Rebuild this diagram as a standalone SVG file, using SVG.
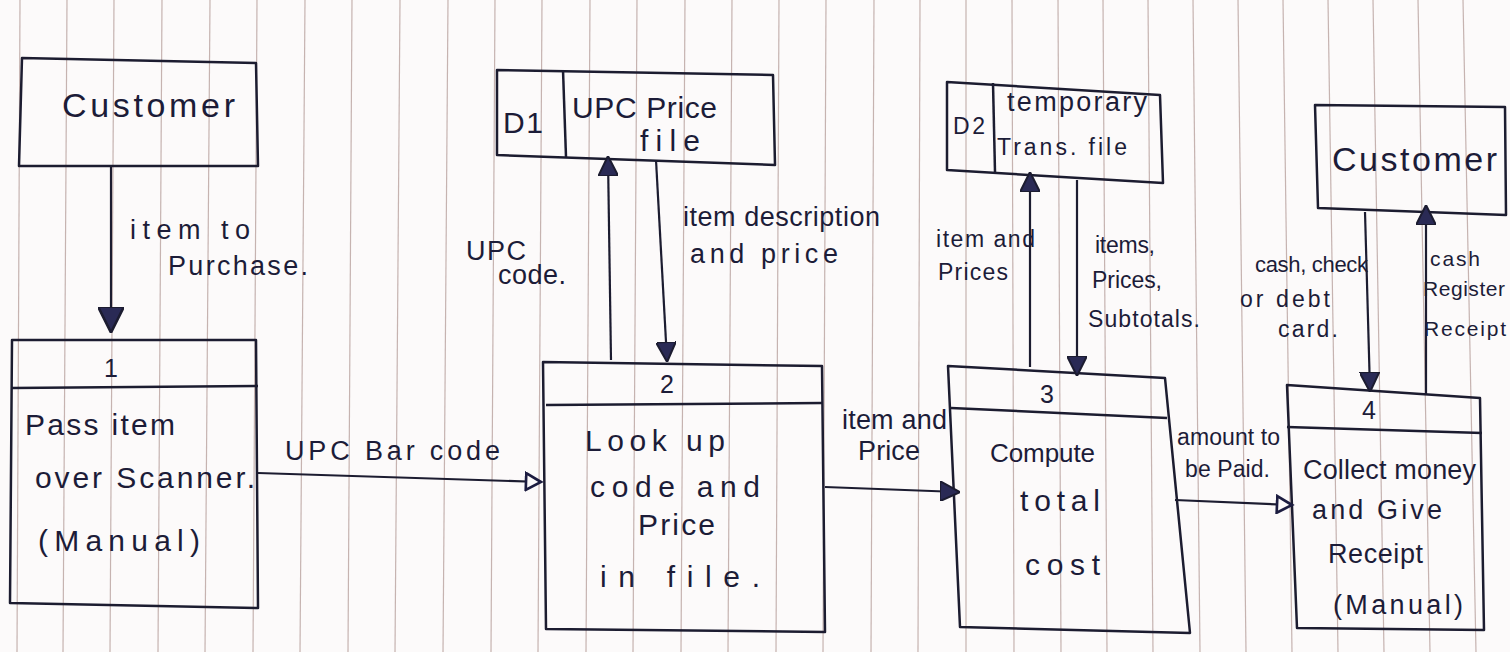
<svg xmlns="http://www.w3.org/2000/svg" width="1510" height="652" viewBox="0 0 1510 652">
<defs>
<style>
.ruling{stroke:#b49c98;stroke-width:1.2;opacity:0.75}
.box{fill:none;stroke:#1c1c30;stroke-width:2.5;stroke-linejoin:round}
.flow{fill:none;stroke:#1c1c30;stroke-width:2.2}
.t{font-family:"Liberation Sans","DejaVu Sans",sans-serif;fill:#1c1c38}
.big{font-size:34px}
.proc{font-size:30px}
.p27{font-size:27px}
.lbl{font-size:27px}
.sm{font-size:23px}
.xs{font-size:21px}
.num{font-size:25px}
</style>
<marker id="ahb" viewBox="0 0 10 10" refX="9" refY="5" markerWidth="20" markerHeight="20" markerUnits="userSpaceOnUse" orient="auto">
<path d="M0,0 L10,5 L0,10 Z" fill="#2a2a55" stroke="#1c1c30" stroke-width="1"/>
</marker>
<marker id="ahbig" viewBox="0 0 10 10" refX="9" refY="5" markerWidth="26" markerHeight="26" markerUnits="userSpaceOnUse" orient="auto">
<path d="M0,0 L10,5 L0,10 Z" fill="#2a2a55" stroke="#1c1c30" stroke-width="1"/>
</marker>
<marker id="aho" viewBox="0 0 12 12" refX="10" refY="6" markerWidth="20" markerHeight="20" markerUnits="userSpaceOnUse" orient="auto">
<path d="M1,1 L10,6 L1,11 Z" fill="#fcfafa" stroke="#1c1c40" stroke-width="1.6"/>
</marker>
</defs>
<rect width="1510" height="652" fill="#fcfafa"/>
<g id="paper-ruling">
<line class="ruling" x1="20" y1="0" x2="17" y2="652"/>
<line class="ruling" x1="67" y1="0" x2="63" y2="652"/>
<line class="ruling" x1="114" y1="0" x2="110" y2="652"/>
<line class="ruling" x1="162" y1="0" x2="158" y2="652"/>
<line class="ruling" x1="210" y1="0" x2="205" y2="652"/>
<line class="ruling" x1="257" y1="0" x2="253" y2="652"/>
<line class="ruling" x1="305" y1="0" x2="300" y2="652"/>
<line class="ruling" x1="352" y1="0" x2="348" y2="652"/>
<line class="ruling" x1="400" y1="0" x2="395" y2="652"/>
<line class="ruling" x1="448" y1="0" x2="443" y2="652"/>
<line class="ruling" x1="495" y1="0" x2="491" y2="652"/>
<line class="ruling" x1="542" y1="0" x2="538" y2="652"/>
<line class="ruling" x1="590" y1="0" x2="586" y2="652"/>
<line class="ruling" x1="637" y1="0" x2="633" y2="652"/>
<line class="ruling" x1="685" y1="0" x2="681" y2="652"/>
<line class="ruling" x1="732" y1="0" x2="728" y2="652"/>
<line class="ruling" x1="779" y1="0" x2="776" y2="652"/>
<line class="ruling" x1="826" y1="0" x2="823" y2="652"/>
<line class="ruling" x1="874" y1="0" x2="871" y2="652"/>
<line class="ruling" x1="920" y1="0" x2="918" y2="652"/>
<line class="ruling" x1="966" y1="0" x2="966" y2="652"/>
<line class="ruling" x1="1012" y1="0" x2="1014" y2="652"/>
<line class="ruling" x1="1058" y1="0" x2="1061" y2="652"/>
<line class="ruling" x1="1103" y1="0" x2="1107" y2="652"/>
<line class="ruling" x1="1148" y1="0" x2="1153" y2="652"/>
<line class="ruling" x1="1193" y1="0" x2="1200" y2="652"/>
<line class="ruling" x1="1238" y1="0" x2="1246" y2="652"/>
<line class="ruling" x1="1283" y1="0" x2="1292" y2="652"/>
<line class="ruling" x1="1328" y1="0" x2="1338" y2="652"/>
<line class="ruling" x1="1373" y1="0" x2="1384" y2="652"/>
<line class="ruling" x1="1418" y1="0" x2="1430" y2="652"/>
<line class="ruling" x1="1463" y1="0" x2="1476" y2="652"/>
</g>

<g id="customer-source">
<path class="box" d="M22,58 L256,63 L258,166 L19,166 Z"/>
<text class="t big" x="62" y="117" textLength="173" lengthAdjust="spacing">Customer</text>
</g>

<g id="process-1">
<path class="box" d="M12,340 L256,340 L258,608 L10,603 Z"/>
<line class="box" x1="12" y1="388" x2="258" y2="386"/>
<text class="t num" x="104" y="377">1</text>
<text class="t proc" x="25" y="435" textLength="150" lengthAdjust="spacing">Pass item</text>
<text class="t proc" x="35" y="488" textLength="220" lengthAdjust="spacing">over Scanner.</text>
<text class="t proc" x="38" y="551" textLength="162" lengthAdjust="spacing">(Manual)</text>
</g>

<g id="store-D1">
<path class="box" d="M497,70 L773,75 L775,165 L497,155 Z"/>
<line class="box" x1="563" y1="70" x2="566" y2="157"/>
<text class="t proc" x="503" y="133" textLength="40" lengthAdjust="spacing">D1</text>
<text class="t proc" x="572" y="118" textLength="145" lengthAdjust="spacing">UPC Price</text>
<text class="t proc" x="640" y="151" textLength="60" lengthAdjust="spacing">file</text>
</g>

<g id="process-2">
<path class="box" d="M543,362 L822,366 L825,632 L546,629 Z"/>
<line class="box" x1="546" y1="405" x2="822" y2="403"/>
<text class="t num" x="660" y="393">2</text>
<text class="t proc" x="585" y="451" textLength="140" lengthAdjust="spacing">Look up</text>
<text class="t proc" x="590" y="497" textLength="170" lengthAdjust="spacing">code and</text>
<text class="t proc" x="638" y="535" textLength="77" lengthAdjust="spacing">Price</text>
<text class="t proc" x="600" y="587" textLength="160" lengthAdjust="spacing">in  file.</text>
</g>

<g id="store-D2">
<path class="box" d="M947,82 L1160,95 L1163,183 L947,170 Z"/>
<line class="box" x1="993" y1="83" x2="995" y2="172"/>
<text class="t sm" x="953" y="134" textLength="32" lengthAdjust="spacing">D2</text>
<text class="t p27" x="1007" y="111" textLength="140" lengthAdjust="spacing">temporary</text>
<text class="t sm" x="997" y="155" textLength="130" lengthAdjust="spacing">Trans. file</text>
</g>

<g id="process-3">
<path class="box" d="M948,366 L1165,378 L1190,633 L960,627 Z"/>
<line class="box" x1="951" y1="408" x2="1167" y2="418"/>
<text class="t num" x="1040" y="403">3</text>
<text class="t proc" x="990" y="462" style="font-size:26px" textLength="105" lengthAdjust="spacing">Compute</text>
<text class="t proc" x="1020" y="511" textLength="80" lengthAdjust="spacing">total</text>
<text class="t proc" x="1025" y="575" textLength="75" lengthAdjust="spacing">cost</text>
</g>

<g id="customer-sink">
<path class="box" d="M1315,105 L1505,107 L1506,215 L1318,208 Z"/>
<text class="t big" x="1332" y="171" textLength="165" lengthAdjust="spacing">Customer</text>
</g>

<g id="process-4">
<path class="box" d="M1287,385 L1480,398 L1484,630 L1297,628 Z"/>
<line class="box" x1="1287" y1="427" x2="1482" y2="433"/>
<text class="t num" x="1362" y="419">4</text>
<text class="t p27" x="1303" y="479" textLength="173" lengthAdjust="spacing">Collect money</text>
<text class="t p27" x="1312" y="519" textLength="130" lengthAdjust="spacing">and Give</text>
<text class="t p27" x="1328" y="563" textLength="95" lengthAdjust="spacing">Receipt</text>
<text class="t p27" x="1333" y="614" textLength="130" lengthAdjust="spacing">(Manual)</text>
</g>

<g id="connectors">
<line class="flow" x1="111" y1="166" x2="111" y2="330" marker-end="url(#ahbig)"/>
<path class="flow" d="M258,473 L541,482" marker-end="url(#aho)"/>
<path class="flow" d="M611,360 L608,158" marker-end="url(#ahb)"/>
<path class="flow" d="M656,160 L667,360" marker-end="url(#ahb)"/>
<path class="flow" d="M825,487 L958,492" marker-end="url(#ahb)"/>
<path class="flow" d="M1030,367 L1030,174" marker-end="url(#ahb)"/>
<path class="flow" d="M1077,180 L1077,374" marker-end="url(#ahb)"/>
<path class="flow" d="M1175,500 L1292,505" marker-end="url(#aho)"/>
<path class="flow" d="M1365,212 L1370,390" marker-end="url(#ahb)"/>
<path class="flow" d="M1426,395 L1426,207" marker-end="url(#ahb)"/>
</g>

<g id="flow-labels">
<text class="t lbl" x="130" y="239" textLength="120" lengthAdjust="spacing">item to</text>
<text class="t lbl" x="168" y="275" textLength="140" lengthAdjust="spacing">Purchase.</text>
<text class="t lbl" x="285" y="460" textLength="215" lengthAdjust="spacing">UPC Bar code</text>
<text class="t lbl" x="466" y="260" textLength="60" lengthAdjust="spacing">UPC</text>
<text class="t lbl" x="498" y="284" textLength="68" lengthAdjust="spacing">code.</text>
<text class="t lbl" x="683" y="226" textLength="197" lengthAdjust="spacing">item description</text>
<text class="t lbl" x="690" y="263" textLength="148" lengthAdjust="spacing">and price</text>
<text class="t lbl" x="842" y="429" textLength="105" lengthAdjust="spacing">item and</text>
<text class="t lbl" x="858" y="460" textLength="62" lengthAdjust="spacing">Price</text>
<text class="t sm" x="936" y="247" textLength="99" lengthAdjust="spacing">item and</text>
<text class="t sm" x="938" y="280" textLength="70" lengthAdjust="spacing">Prices</text>
<text class="t sm" x="1095" y="253" textLength="60" lengthAdjust="spacing">items,</text>
<text class="t sm" x="1092" y="288" textLength="70" lengthAdjust="spacing">Prices,</text>
<text class="t sm" x="1088" y="327" textLength="112" lengthAdjust="spacing">Subtotals.</text>
<text class="t sm" x="1177" y="445" textLength="103" lengthAdjust="spacing">amount to</text>
<text class="t sm" x="1185" y="477" textLength="85" lengthAdjust="spacing">be Paid.</text>
<text class="t xs" x="1255" y="272" style="font-size:22px" textLength="113" lengthAdjust="spacing">cash, check</text>
<text class="t sm" x="1240" y="307" textLength="90" lengthAdjust="spacing">or debt</text>
<text class="t sm" x="1278" y="337" textLength="60" lengthAdjust="spacing">card.</text>
<text class="t xs" x="1430" y="266" textLength="50" lengthAdjust="spacing">cash</text>
<text class="t xs" x="1423" y="296" textLength="82" lengthAdjust="spacing">Register</text>
<text class="t xs" x="1424" y="336" textLength="82" lengthAdjust="spacing">Receipt</text>
</g>
</svg>
